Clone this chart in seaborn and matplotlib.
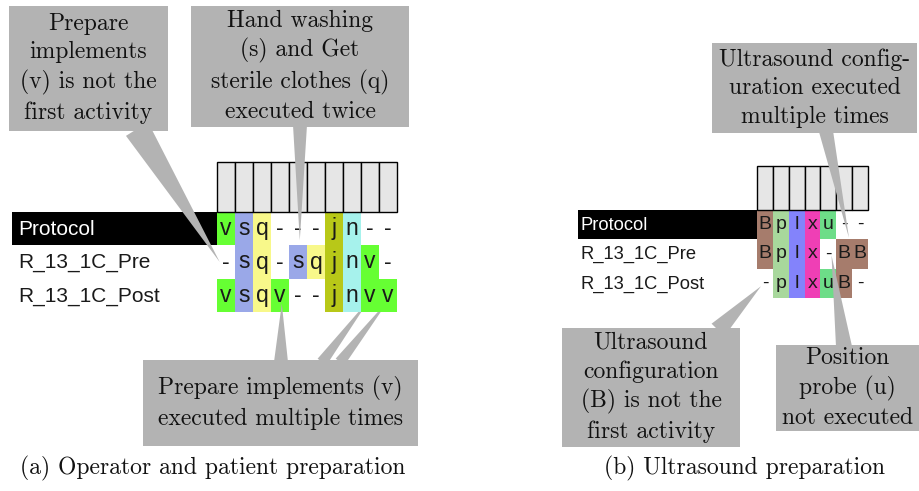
import numpy as np
import pandas as pd
import matplotlib
matplotlib.use("Agg")
import matplotlib.pyplot as plt
import matplotlib.transforms as mtransforms
from matplotlib.colors import ListedColormap
from matplotlib.patches import Rectangle
import seaborn as sns

# --- alignment data -------------------------------------------------------
ROW_NAMES = ["Protocol", "R_13_1C_Pre", "R_13_1C_Post"]

LEFT_SEQS = ["vsq---jn--", "-sq-sqjnv-", "vsqv--jnvv"]
LEFT_ACTS = ["-", "v", "s", "q", "j", "n"]
LEFT_COLS = ["#ffffff", "#66ff33", "#9aa8e8", "#f8f88a", "#b8c818", "#a6f2ec"]

RIGHT_SEQS = ["Bplxu--", "Bplx-BB", "-plxuB-"]
RIGHT_ACTS = ["-", "B", "p", "l", "x", "u"]
RIGHT_COLS = ["#ffffff", "#a67c6c", "#a8d89c", "#8383fb", "#ef3fb5", "#6ddd88"]

CAPTIONS = ["(a) Operator and patient preparation", "(b) Ultrasound preparation"]

W, H = 919, 491
SANS = "Liberation Sans"
SERIF = "cmr10"
BOX_GREY = "#b3b3b3"
SERIF_FS = 17

sns.set_style("white")
fig = plt.figure(figsize=(W / 100, H / 100), dpi=100)


def fx(x):
    return x / W


def fy(y):
    return 1 - y / H


def alignment(ax, seqs, acts, cols, label_x, band_x, cell_fs, label_fs, header=1.5):
    letters = np.array([list(s) for s in seqs])
    codes = pd.DataFrame(np.vectorize(acts.index)(letters), index=ROW_NAMES)
    sns.heatmap(codes, annot=letters, fmt="", cmap=ListedColormap(cols),
                vmin=-0.5, vmax=len(cols) - 0.5, cbar=False,
                xticklabels=False, yticklabels=False, linewidths=0, ax=ax,
                annot_kws={"color": "#1a1a1a", "fontsize": cell_fs, "family": SANS})
    ncol = letters.shape[1]
    ax.set_ylim(3, -header)
    ax.set_xlim(0, ncol)
    for j in range(ncol):
        ax.add_patch(Rectangle((j, -header), 1, header, fc="#e6e6e6", ec="black",
                               lw=1, clip_on=False, zorder=2))
    trans = mtransforms.blended_transform_factory(fig.transFigure, ax.transData)
    left = ax.get_position().x0
    ax.add_patch(Rectangle((fx(band_x), 0), left - fx(band_x), 1, transform=trans,
                           fc="black", ec="none", clip_on=False, zorder=2))
    for i, name in enumerate(ROW_NAMES):
        ax.text(fx(label_x), i + 0.52, name, transform=trans, ha="left", va="center",
                fontsize=label_fs, family=SANS, color="white" if i == 0 else "#1a1a1a",
                zorder=3)


ax_l = fig.add_axes([fx(217), fy(312), fx(397) - fx(217), fy(162) - fy(312)])
alignment(ax_l, LEFT_SEQS, LEFT_ACTS, LEFT_COLS, 18, 12, 16.5, 15)

ax_r = fig.add_axes([fx(757), fy(298), fx(868) - fx(757), fy(166) - fy(298)])
alignment(ax_r, RIGHT_SEQS, RIGHT_ACTS, RIGHT_COLS, 581, 578, 14, 13.2)


# --- callouts -------------------------------------------------------------
def box(x0, y0, x1, y1, text, fs=SERIF_FS):
    fig.add_artist(Rectangle((fx(x0), fy(y1)), fx(x1) - fx(x0), fy(y0) - fy(y1),
                             transform=fig.transFigure, fc=BOX_GREY, ec="none", zorder=5))
    fig.text(fx((x0 + x1) / 2), fy((y0 + y1) / 2), text, ha="center", va="center",
             fontsize=fs, family=SERIF, color="#111111", linespacing=1.36, zorder=6)


def pointer(ax, cell, base, width, z=4):
    tail = width / (10 * 100 / 72)
    ax.annotate("", xy=cell, xycoords="data", xytext=(base[0], H - base[1]),
                textcoords="figure pixels", annotation_clip=False,
                arrowprops=dict(arrowstyle=f"wedge,tail_width={tail:.3f},shrink_factor=0.5",
                                mutation_scale=10, fc=BOX_GREY, ec="none",
                                shrinkA=0, shrinkB=0), zorder=z)


pointer(ax_l, (0.15, 1.5), (137, 129), 26)
pointer(ax_l, (4.6, 0.85), (300, 125), 14)
pointer(ax_l, (3.6, 2.75), (281, 362), 14)
pointer(ax_l, (8.5, 2.6), (322, 362), 11, z=0.5)
pointer(ax_l, (9.6, 2.6), (340, 362), 11, z=0.5)

pointer(ax_r, (5.8, 0.95), (826, 131), 14)
pointer(ax_r, (4.7, 1.55), (844, 347), 16)
pointer(ax_r, (0.25, 2.6), (718, 330), 18)

box(9, 6, 168, 131, "Prepare\nimplements\n(v) is not the\nfirst activity")
box(191, 6, 409, 127, "Hand washing\n(s) and Get\nsterile clothes (q)\nexecuted twice")
box(143, 360, 418, 446, "Prepare implements (v)\nexecuted multiple times")
box(562, 328, 740, 447, "Ultrasound\nconfiguration\n(B) is not the\nfirst activity")
box(776, 345, 919, 431, "Position\nprobe (u)\nnot executed")
box(712, 43, 917, 133, "Ultrasound config-\nuration executed\nmultiple times")

fig.text(fx(213), fy(468), CAPTIONS[0], ha="center", va="center", fontsize=SERIF_FS,
         family=SERIF, color="#111111")
fig.text(fx(744), fy(468), CAPTIONS[1], ha="center", va="center", fontsize=SERIF_FS,
         family=SERIF, color="#111111")

fig.savefig("out.png", dpi=100)
